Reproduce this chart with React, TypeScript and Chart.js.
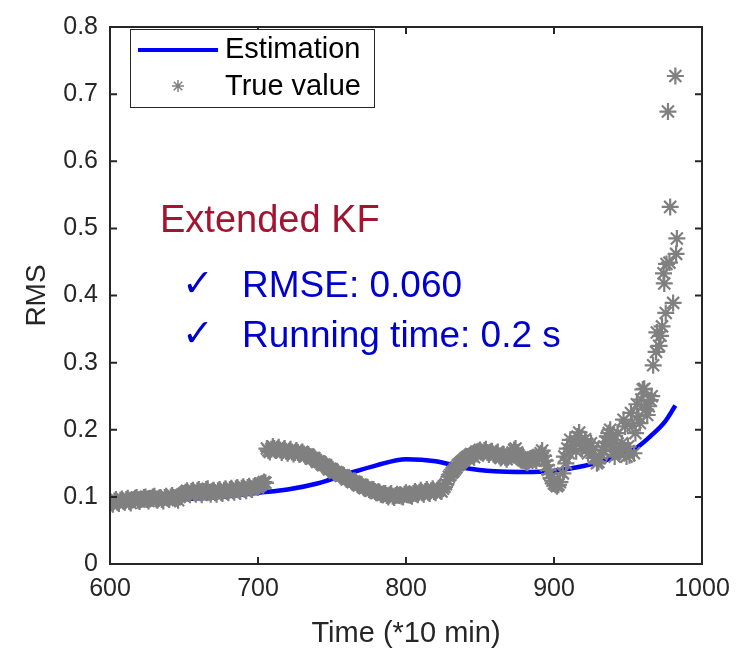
import React, { useEffect, useRef } from 'react';
import { Chart, registerables } from 'chart.js';

Chart.register(...registerables);

// ---- data ----
const estTimes = [600, 620, 640, 660, 680, 700, 720, 740, 760, 780, 800, 820, 840, 860, 880, 900, 920, 940, 955, 965, 975, 982];
const estValues = [0.092, 0.094, 0.096, 0.098, 0.101, 0.106, 0.111, 0.120, 0.134, 0.147, 0.156, 0.153, 0.143, 0.138, 0.137, 0.139, 0.146, 0.158, 0.172, 0.190, 0.212, 0.236];

// True value, one reading per time step starting at denseStart (600 .. 904)
const denseStart = 600;
const denseValues = [
  0.093, 0.091, 0.089, 0.094, 0.096, 0.092, 0.090, 0.095, 0.097, 0.094,
  0.092, 0.096, 0.098, 0.093, 0.091, 0.095, 0.096, 0.098, 0.099, 0.095,
  0.093, 0.096, 0.097, 0.099, 0.100, 0.096, 0.094, 0.097, 0.098, 0.100,
  0.101, 0.097, 0.095, 0.098, 0.099, 0.096, 0.094, 0.099, 0.101, 0.098,
  0.096, 0.100, 0.102, 0.099, 0.097, 0.098, 0.095, 0.100, 0.102, 0.104,
  0.105, 0.107, 0.109, 0.105, 0.103, 0.108, 0.110, 0.106, 0.104, 0.109,
  0.111, 0.106, 0.103, 0.107, 0.108, 0.111, 0.112, 0.107, 0.104, 0.108,
  0.110, 0.106, 0.104, 0.109, 0.111, 0.107, 0.105, 0.110, 0.112, 0.108,
  0.106, 0.111, 0.113, 0.109, 0.107, 0.112, 0.114, 0.110, 0.108, 0.113,
  0.115, 0.111, 0.109, 0.114, 0.116, 0.112, 0.111, 0.115, 0.117, 0.115,
  0.114, 0.117, 0.119, 0.120, 0.122, 0.121, 0.172, 0.169, 0.167, 0.171,
  0.175, 0.172, 0.169, 0.171, 0.174, 0.170, 0.166, 0.169, 0.172, 0.168,
  0.165, 0.168, 0.171, 0.167, 0.164, 0.166, 0.169, 0.166, 0.163, 0.165,
  0.167, 0.164, 0.161, 0.163, 0.163, 0.160, 0.157, 0.158, 0.158, 0.155,
  0.152, 0.153, 0.152, 0.149, 0.147, 0.148, 0.147, 0.144, 0.141, 0.142,
  0.141, 0.138, 0.136, 0.137, 0.136, 0.133, 0.131, 0.132, 0.132, 0.129,
  0.126, 0.127, 0.127, 0.124, 0.122, 0.123, 0.122, 0.119, 0.117, 0.118,
  0.118, 0.115, 0.113, 0.114, 0.114, 0.111, 0.109, 0.110, 0.111, 0.108,
  0.106, 0.107, 0.107, 0.104, 0.103, 0.105, 0.105, 0.102, 0.100, 0.103,
  0.105, 0.101, 0.099, 0.102, 0.104, 0.102, 0.103, 0.101, 0.100, 0.104,
  0.106, 0.103, 0.104, 0.102, 0.101, 0.105, 0.108, 0.105, 0.103, 0.107,
  0.110, 0.106, 0.104, 0.108, 0.111, 0.107, 0.105, 0.109, 0.112, 0.108,
  0.106, 0.110, 0.113, 0.110, 0.108, 0.112, 0.115, 0.119, 0.125, 0.130,
  0.133, 0.136, 0.138, 0.141, 0.144, 0.147, 0.149, 0.151, 0.153, 0.155,
  0.157, 0.159, 0.160, 0.162, 0.164, 0.161, 0.159, 0.164, 0.167, 0.168,
  0.170, 0.167, 0.165, 0.169, 0.171, 0.166, 0.163, 0.166, 0.168, 0.164,
  0.162, 0.165, 0.167, 0.161, 0.158, 0.161, 0.163, 0.159, 0.156, 0.159,
  0.161, 0.163, 0.166, 0.170, 0.172, 0.166, 0.162, 0.159, 0.157, 0.155,
  0.154, 0.152, 0.151, 0.154, 0.157, 0.158, 0.159, 0.156, 0.154, 0.158,
  0.161, 0.165, 0.169, 0.161, 0.154, 0.147, 0.140, 0.134, 0.128, 0.124,
  0.120, 0.118, 0.116, 0.118, 0.122
];

// True value, scattered end of the record
const tailTimes = [
  906, 907, 908, 909, 910, 911, 912, 913, 914, 915, 916, 917, 918, 919, 920, 921, 922, 923, 924, 925, 926, 927, 928, 929,
  930, 931, 932, 933, 934, 935, 936, 937, 938, 939, 940, 941, 942, 943, 944, 945, 946, 947, 948, 949, 950, 951, 952, 953,
  954, 955, 956, 957, 958, 959, 960, 961, 962, 963, 964, 965, 966, 967, 969, 969.5, 971, 972, 973, 974, 974.5, 975.5,
  976, 977, 978, 978.5, 980.5, 982, 982.5, 983
];
const tailValues = [
  0.135, 0.160, 0.150, 0.172, 0.165, 0.185, 0.178, 0.176, 0.182, 0.168, 0.190, 0.196, 0.185, 0.172, 0.178, 0.186, 0.180, 0.165, 0.175, 0.180, 0.170, 0.158, 0.160, 0.150,
  0.152, 0.158, 0.163, 0.170, 0.175, 0.182, 0.190, 0.195, 0.200, 0.175, 0.185, 0.160, 0.170, 0.195, 0.165, 0.168, 0.180, 0.215, 0.205, 0.160, 0.175, 0.162, 0.225, 0.206,
  0.165, 0.195, 0.238, 0.220, 0.210, 0.245, 0.260, 0.261, 0.230, 0.222, 0.235, 0.244, 0.250, 0.296, 0.316, 0.345, 0.325, 0.340, 0.354, 0.433, 0.418, 0.374,
  0.447, 0.674, 0.449, 0.532, 0.389, 0.727, 0.462, 0.485
];

const xTicks = [600, 700, 800, 900, 1000];
const yTicks = [0, 0.1, 0.2, 0.3, 0.4, 0.5, 0.6, 0.7, 0.8];
const seriesNames = ['Estimation', 'True value'];
const axisTitles = { x: 'Time (*10 min)', y: 'RMS' };
const noteTitle = 'Extended KF';
const noteLines = ['RMSE: 0.060', 'Running time: 0.2 s'];

const FONT = "'Liberation Sans', Arial, Helvetica, sans-serif";
const AXIS_COLOR = '#262626';
const LINE_BLUE = '#0000ff';
const STAR_GRAY = '#808080';
const NOTE_RED = 'rgb(162,20,47)';
const NOTE_BLUE = '#0000cc';

function drawStar(ctx: CanvasRenderingContext2D, x: number, y: number, r: number) {
  ctx.beginPath();
  ctx.moveTo(x - r, y); ctx.lineTo(x + r, y);
  ctx.moveTo(x, y - r); ctx.lineTo(x, y + r);
  const d = r * Math.SQRT1_2;
  ctx.moveTo(x - d, y - d); ctx.lineTo(x + d, y + d);
  ctx.moveTo(x - d, y + d); ctx.lineTo(x + d, y - d);
  ctx.stroke();
}

const framePlugin = {
  id: 'matlabFrame',
  afterDatasetsDraw(chart: any) {
    const { ctx, chartArea: a, scales } = chart;
    ctx.save();
    ctx.strokeStyle = AXIS_COLOR;
    ctx.lineWidth = 2;
    ctx.strokeRect(a.left, a.top, a.right - a.left, a.bottom - a.top);
    const tl = 7;
    ctx.beginPath();
    for (const v of xTicks) {
      const x = scales.x.getPixelForValue(v);
      ctx.moveTo(x, a.bottom); ctx.lineTo(x, a.bottom - tl);
      ctx.moveTo(x, a.top); ctx.lineTo(x, a.top + tl);
    }
    for (const v of yTicks) {
      const y = scales.y.getPixelForValue(v);
      ctx.moveTo(a.left, y); ctx.lineTo(a.left + tl, y);
      ctx.moveTo(a.right, y); ctx.lineTo(a.right - tl, y);
    }
    ctx.stroke();
    ctx.restore();
  },
};

const notesPlugin = {
  id: 'notesAndLegend',
  afterDraw(chart: any) {
    const { ctx } = chart;
    ctx.save();
    ctx.textBaseline = 'alphabetic';
    ctx.textAlign = 'left';
    ctx.fillStyle = NOTE_RED;
    ctx.font = `38px ${FONT}`;
    ctx.fillText(noteTitle, 160, 232);
    ctx.fillStyle = NOTE_BLUE;
    ctx.font = `37px ${FONT}`;
    ctx.fillText(noteLines[0], 242, 297);
    ctx.fillText(noteLines[1], 242, 347);
    ctx.font = `bold 38px 'DejaVu Sans', sans-serif`;
    ctx.fillText('\u2713', 182, 296);
    ctx.fillText('\u2713', 182, 346);

    // legend
    const bx = 130, by = 29, bw = 244, bh = 78;
    ctx.fillStyle = '#ffffff';
    ctx.fillRect(bx, by, bw, bh);
    ctx.strokeStyle = AXIS_COLOR;
    ctx.lineWidth = 1;
    ctx.strokeRect(bx + 0.5, by + 0.5, bw, bh);
    const ds = chart.data.datasets;
    ctx.strokeStyle = ds[0].borderColor;
    ctx.lineWidth = 4;
    ctx.beginPath();
    ctx.moveTo(138, 50); ctx.lineTo(218, 50);
    ctx.stroke();
    ctx.strokeStyle = ds[1].borderColor;
    ctx.lineWidth = 1.5;
    drawStar(ctx, 178, 86, 6);
    ctx.fillStyle = '#000000';
    ctx.font = `29px ${FONT}`;
    ctx.textBaseline = 'middle';
    ctx.fillText(seriesNames[0], 225, 50);
    ctx.fillText(seriesNames[1], 225, 87);
    ctx.restore();
  },
};

export default function App() {
  const ref = useRef<HTMLCanvasElement | null>(null);
  useEffect(() => {
    if (!ref.current) return;
    const truePoints = [
      ...denseValues.map((v, i) => ({ x: denseStart + i, y: v })),
      ...tailTimes.map((t, i) => ({ x: t, y: tailValues[i] })),
    ];
    const chart = new Chart(ref.current, {
      type: 'scatter',
      data: {
        datasets: [
          {
            label: seriesNames[0],
            data: estTimes.map((t, i) => ({ x: t, y: estValues[i] })),
            showLine: true,
            borderColor: LINE_BLUE,
            borderWidth: 4.5,
            pointRadius: 0,
            cubicInterpolationMode: 'monotone',
            order: 1,
          } as any,
          {
            label: seriesNames[1],
            data: truePoints,
            showLine: false,
            pointStyle: 'star',
            pointRadius: 8.5,
            borderColor: STAR_GRAY,
            backgroundColor: STAR_GRAY,
            borderWidth: 2.2,
            order: 0,
          } as any,
        ],
      },
      options: {
        responsive: false,
        animation: false,
        layout: { padding: { left: 0, top: 17, right: 40, bottom: 0 } },
        plugins: { legend: { display: false }, tooltip: { enabled: false } },
        scales: {
          x: {
            type: 'linear',
            min: 600,
            max: 1000,
            grid: { display: false, drawTicks: false },
            border: { display: false },
            afterBuildTicks: (s: any) => { s.ticks = xTicks.map((v) => ({ value: v })); },
            afterFit: (s: any) => { s.height = 88; },
            ticks: { color: AXIS_COLOR, font: { family: FONT, size: 25 }, padding: 10, maxRotation: 0, callback: (v: any) => String(v) },
            title: { display: true, text: axisTitles.x, color: AXIS_COLOR, font: { family: FONT, size: 29 }, padding: { top: 0, bottom: 1 } },
          },
          y: {
            type: 'linear',
            min: 0,
            max: 0.8,
            grid: { display: false, drawTicks: false },
            border: { display: false },
            afterBuildTicks: (s: any) => { s.ticks = yTicks.map((v) => ({ value: v })); },
            afterFit: (s: any) => { s.width = 110; },
            ticks: { color: AXIS_COLOR, font: { family: FONT, size: 25 }, padding: 12, callback: (v: any) => String(Math.round(v * 10) / 10) },
            title: { display: true, text: axisTitles.y, color: AXIS_COLOR, font: { family: FONT, size: 28 }, padding: { top: 20, bottom: 0 } },
          },
        },
      } as any,
      plugins: [framePlugin, notesPlugin],
    });
    return () => chart.destroy();
  }, []);
  return (
    <div style={{ position: 'absolute', left: 0, top: 0, width: 742, height: 652, background: '#fff' }}>
      <canvas ref={ref} width={742} height={652} style={{ display: 'block', width: 742, height: 652 }} />
    </div>
  );
}
